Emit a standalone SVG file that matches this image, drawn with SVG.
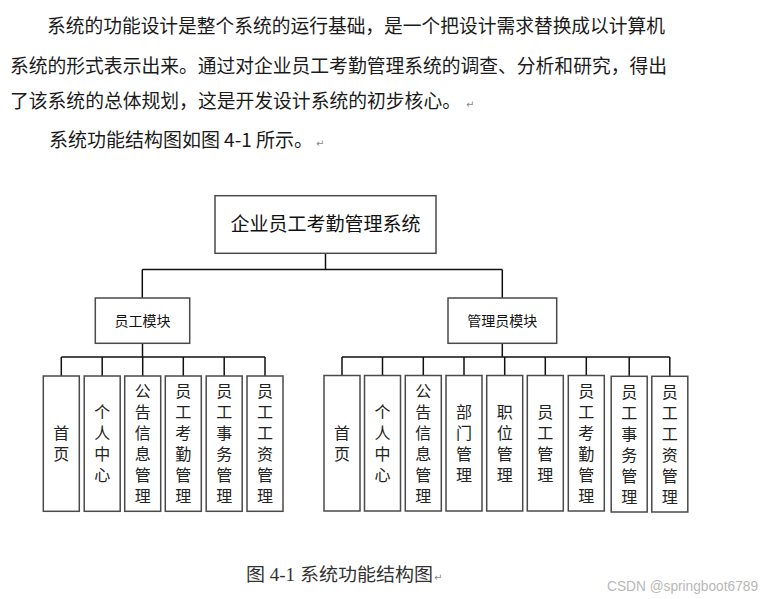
<svg xmlns="http://www.w3.org/2000/svg" width="771" height="599" viewBox="0 0 771 599">
<style>
.para{font-family:"Noto Sans CJK SC","Noto Sans",sans-serif;font-size:19px;fill:#1a1a1a}
.ret{font-family:"DejaVu Sans",sans-serif;font-size:10px;fill:#888}
.box{fill:#fff;stroke:#4a4a4a;stroke-width:1.5}
.con{stroke:#111;stroke-width:1.5;fill:none}
.title{font-family:"Noto Sans CJK SC",sans-serif;font-size:19px;font-weight:normal;fill:#111;text-anchor:middle}
.mod{font-family:"Noto Sans CJK SC",sans-serif;font-size:14px;fill:#111;text-anchor:middle}
.v{font-family:"Liberation Sans","Noto Sans CJK SC",sans-serif;font-size:16px;fill:#222;text-anchor:middle}
.cap{font-family:"Liberation Serif","Noto Sans CJK SC",serif;font-size:18px;fill:#333}
.wm{font-family:"Liberation Sans",sans-serif;font-size:14px;fill:#b8b8b8}
</style>
<rect width="771" height="599" fill="#fff"/>
<g id="paragraph">
<text class="para" x="47" y="33" textLength="618" lengthAdjust="spacingAndGlyphs">系统的功能设计是整个系统的运行基础，是一个把设计需求替换成以计算机</text>
<text class="para" x="10" y="73" textLength="657" lengthAdjust="spacingAndGlyphs">系统的形式表示出来。通过对企业员工考勤管理系统的调查、分析和研究，得出</text>
<text class="para" x="10" y="108" textLength="451" lengthAdjust="spacingAndGlyphs">了该系统的总体规划，这是开发设计系统的初步核心。</text>
<text class="ret" x="466" y="108">↵</text>
<text class="para" x="49" y="147" textLength="264" lengthAdjust="spacingAndGlyphs">系统功能结构图如图 4-1 所示。</text>
<text class="ret" x="316" y="147">↵</text>
</g>
<g id="connectors">
<path class="con" d="M325.5,253 V269.5 M142.3,269.5 H502.3 M142.3,269.5 V298 M502.3,269.5 V298"/>
<path class="con" d="M142.5,343 V357 M61.3,357 H265 M61.3,357 V376 M102.2,357 V376 M142.7,357 V376 M183.3,357 V376 M224.2,357 V376 M265,357 V376"/>
<path class="con" d="M502.3,343 V357 M342,357 H669.8 M342,357 V375.5 M382.5,357 V375.5 M423.3,357 V375.5 M464,357 V375.5 M504.7,357 V375.5 M545.3,357 V375.5 M586.3,357 V375.5 M629.2,357 V376 M669.8,357 V376"/>
</g>
<g id="root">
<rect class="box" x="215" y="195.7" width="221" height="57.6"/>
<text class="title" x="325.5" y="231.3">企业员工考勤管理系统</text>
</g>
<g id="employee-module">
<rect class="box" x="95.3" y="298" width="94.4" height="45.3"/>
<text class="mod" x="142.5" y="326">员工模块</text>
</g>
<g id="admin-module">
<rect class="box" x="448" y="298" width="108.7" height="45.3"/>
<text class="mod" x="502.3" y="326">管理员模块</text>
</g>
<g id="e-home">
<rect class="box" x="43.3" y="376" width="36" height="135.3"/>
<text class="v"><tspan x="61.3" y="438.5">首</tspan><tspan x="61.3" y="459.5">页</tspan></text>
</g>
<g id="e-profile">
<rect class="box" x="84.2" y="376" width="36" height="135.3"/>
<text class="v"><tspan x="102.2" y="417.5">个</tspan><tspan x="102.2" y="438.5">人</tspan><tspan x="102.2" y="459.5">中</tspan><tspan x="102.2" y="480.5">心</tspan></text>
</g>
<g id="e-notice">
<rect class="box" x="124.7" y="376" width="36" height="135.3"/>
<text class="v"><tspan x="142.7" y="396.5">公</tspan><tspan x="142.7" y="417.5">告</tspan><tspan x="142.7" y="438.5">信</tspan><tspan x="142.7" y="459.5">息</tspan><tspan x="142.7" y="480.5">管</tspan><tspan x="142.7" y="501.5">理</tspan></text>
</g>
<g id="e-attendance">
<rect class="box" x="165.3" y="376" width="36" height="135.3"/>
<text class="v"><tspan x="183.3" y="396.5">员</tspan><tspan x="183.3" y="417.5">工</tspan><tspan x="183.3" y="438.5">考</tspan><tspan x="183.3" y="459.5">勤</tspan><tspan x="183.3" y="480.5">管</tspan><tspan x="183.3" y="501.5">理</tspan></text>
</g>
<g id="e-affairs">
<rect class="box" x="206.2" y="376" width="36" height="135.3"/>
<text class="v"><tspan x="224.2" y="396.5">员</tspan><tspan x="224.2" y="417.5">工</tspan><tspan x="224.2" y="438.5">事</tspan><tspan x="224.2" y="459.5">务</tspan><tspan x="224.2" y="480.5">管</tspan><tspan x="224.2" y="501.5">理</tspan></text>
</g>
<g id="e-salary">
<rect class="box" x="247" y="376" width="36" height="135.3"/>
<text class="v"><tspan x="265" y="396.5">员</tspan><tspan x="265" y="417.5">工</tspan><tspan x="265" y="438.5">工</tspan><tspan x="265" y="459.5">资</tspan><tspan x="265" y="480.5">管</tspan><tspan x="265" y="501.5">理</tspan></text>
</g>
<g id="a-home">
<rect class="box" x="324" y="375.5" width="36" height="135.5"/>
<text class="v"><tspan x="342" y="438.5">首</tspan><tspan x="342" y="459.5">页</tspan></text>
</g>
<g id="a-profile">
<rect class="box" x="364.5" y="375.5" width="36" height="135.5"/>
<text class="v"><tspan x="382.5" y="417.5">个</tspan><tspan x="382.5" y="438.5">人</tspan><tspan x="382.5" y="459.5">中</tspan><tspan x="382.5" y="480.5">心</tspan></text>
</g>
<g id="a-notice">
<rect class="box" x="405.3" y="375.5" width="36" height="135.5"/>
<text class="v"><tspan x="423.3" y="396.5">公</tspan><tspan x="423.3" y="417.5">告</tspan><tspan x="423.3" y="438.5">信</tspan><tspan x="423.3" y="459.5">息</tspan><tspan x="423.3" y="480.5">管</tspan><tspan x="423.3" y="501.5">理</tspan></text>
</g>
<g id="a-dept">
<rect class="box" x="446" y="375.5" width="36" height="135.5"/>
<text class="v"><tspan x="464" y="417.5">部</tspan><tspan x="464" y="438.5">门</tspan><tspan x="464" y="459.5">管</tspan><tspan x="464" y="480.5">理</tspan></text>
</g>
<g id="a-position">
<rect class="box" x="486.7" y="375.5" width="36" height="135.5"/>
<text class="v"><tspan x="504.7" y="417.5">职</tspan><tspan x="504.7" y="438.5">位</tspan><tspan x="504.7" y="459.5">管</tspan><tspan x="504.7" y="480.5">理</tspan></text>
</g>
<g id="a-employee">
<rect class="box" x="527.3" y="375.5" width="36" height="135.5"/>
<text class="v"><tspan x="545.3" y="417.5">员</tspan><tspan x="545.3" y="438.5">工</tspan><tspan x="545.3" y="459.5">管</tspan><tspan x="545.3" y="480.5">理</tspan></text>
</g>
<g id="a-attendance">
<rect class="box" x="568.3" y="375.5" width="36" height="135.5"/>
<text class="v"><tspan x="586.3" y="396.5">员</tspan><tspan x="586.3" y="417.5">工</tspan><tspan x="586.3" y="438.5">考</tspan><tspan x="586.3" y="459.5">勤</tspan><tspan x="586.3" y="480.5">管</tspan><tspan x="586.3" y="501.5">理</tspan></text>
</g>
<g id="a-affairs">
<rect class="box" x="611.2" y="376.3" width="36" height="135.7"/>
<text class="v"><tspan x="629.2" y="397.5">员</tspan><tspan x="629.2" y="418.5">工</tspan><tspan x="629.2" y="439.5">事</tspan><tspan x="629.2" y="460.5">务</tspan><tspan x="629.2" y="481.5">管</tspan><tspan x="629.2" y="502.5">理</tspan></text>
</g>
<g id="a-salary">
<rect class="box" x="651.8" y="376.3" width="36" height="135.7"/>
<text class="v"><tspan x="669.8" y="397.5">员</tspan><tspan x="669.8" y="418.5">工</tspan><tspan x="669.8" y="439.5">工</tspan><tspan x="669.8" y="460.5">资</tspan><tspan x="669.8" y="481.5">管</tspan><tspan x="669.8" y="502.5">理</tspan></text>
</g>
<g id="caption">
<text class="cap" x="246" y="581" textLength="187" lengthAdjust="spacingAndGlyphs">图 4-1 系统功能结构图</text>
<text class="ret" x="434" y="581">↵</text>
</g>
<g id="watermark">
<text class="wm" x="607" y="590.5" textLength="151" lengthAdjust="spacingAndGlyphs">CSDN @springboot6789</text>
</g>
</svg>
